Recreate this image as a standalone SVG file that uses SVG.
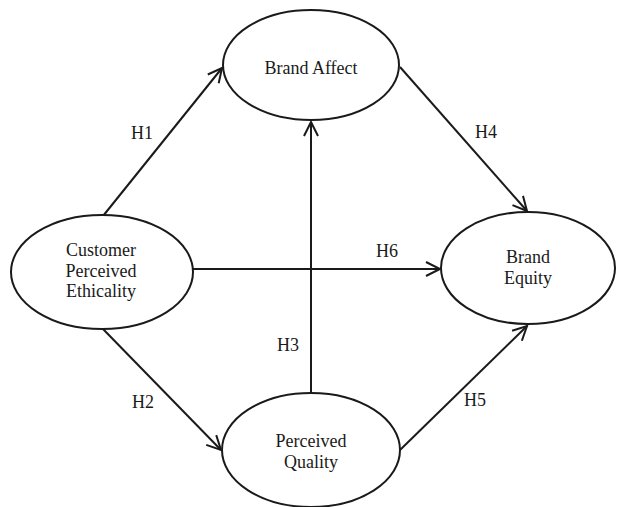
<svg xmlns="http://www.w3.org/2000/svg" width="617" height="507" viewBox="0 0 617 507">
  <style>
    .node { fill: #ffffff; stroke: #1a1a1a; stroke-width: 2; }
    .label { font-family: "Liberation Serif", "Times New Roman", serif; font-size: 18px; fill: #1a1a1a; text-anchor: middle; }
    .edge { stroke: #1a1a1a; stroke-width: 2; fill: none; marker-end: url(#arrow); }
  </style>
  <defs>
    <marker id="arrow" markerUnits="userSpaceOnUse" markerWidth="20" markerHeight="20" viewBox="-16 -10 20 20" refX="0" refY="0" orient="auto">
      <path d="M-14,-7 L0,0 L-14,7" fill="none" stroke="#1a1a1a" stroke-width="2" stroke-linejoin="miter"/>
    </marker>
  </defs>
  <rect width="617" height="507" fill="#ffffff"/>

  <g id="connectors">
    <line class="edge" x1="103" y1="216" x2="222" y2="68"/>
    <line class="edge" x1="400" y1="67" x2="527" y2="211"/>
    <line class="edge" x1="193" y1="269" x2="440" y2="269"/>
    <line class="edge" x1="311" y1="393" x2="311" y2="122"/>
    <line class="edge" x1="103" y1="329" x2="221" y2="450"/>
    <line class="edge" x1="400" y1="450" x2="527" y2="326"/>
    <text class="label" x="142" y="139">H1</text>
    <text class="label" x="486" y="138">H4</text>
    <text class="label" x="387" y="257">H6</text>
    <text class="label" x="288" y="351">H3</text>
    <text class="label" x="143" y="408">H2</text>
    <text class="label" x="475" y="406">H5</text>
  </g>

  <g id="customer-perceived-ethicality">
    <ellipse class="node" cx="102" cy="272" rx="91" ry="57"/>
    <text class="label" x="101" y="256">Customer</text>
    <text class="label" x="101" y="277">Perceived</text>
    <text class="label" x="101" y="297">Ethicality</text>
  </g>

  <g id="brand-affect">
    <ellipse class="node" cx="311" cy="65" rx="88" ry="55"/>
    <text class="label" x="311" y="74">Brand Affect</text>
  </g>

  <g id="brand-equity">
    <ellipse class="node" cx="528" cy="268" rx="87" ry="56"/>
    <text class="label" x="528" y="263">Brand</text>
    <text class="label" x="528" y="284">Equity</text>
  </g>

  <g id="perceived-quality">
    <ellipse class="node" cx="311" cy="450" rx="89" ry="57"/>
    <text class="label" x="311" y="447">Perceived</text>
    <text class="label" x="311" y="468">Quality</text>
  </g>
</svg>
